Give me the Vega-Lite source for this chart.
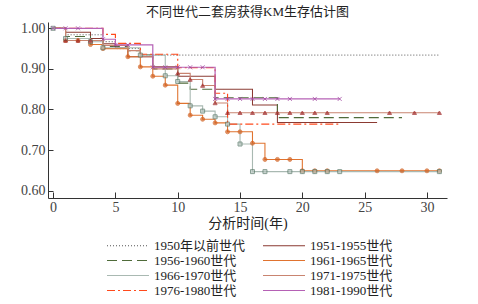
{
  "$schema": "https://vega.github.io/schema/vega-lite/v6.json",
  "autosize": "none",
  "padding": {"left": 48, "top": 22, "right": 31, "bottom": 106},
  "width": 399,
  "height": 176,
  "background": "white",
  "title": {"text": "不同世代二套房获得KM生存估计图", "fontSize": 13, "font": "Liberation Serif, Noto Sans CJK SC", "fontWeight": "normal", "color": "#222", "anchor": "middle", "offset": 2},
  "config": {
    "view": {"stroke": null},
    "axis": {"grid": false, "domainColor": "#333", "tickColor": "#333", "labelFont": "Liberation Serif", "labelColor": "#444", "labelFontSize": 14, "titleFont": "Liberation Serif, Noto Sans CJK SC", "titleFontWeight": "normal", "titleColor": "#222", "titleFontSize": 14}
  },
  "data": {"values": [
    {"g": "1950年以前世代", "t": 0, "s": 1.0, "m": 0},
    {"g": "1950年以前世代", "t": 1, "s": 0.984, "m": 0},
    {"g": "1950年以前世代", "t": 4, "s": 0.967, "m": 0},
    {"g": "1950年以前世代", "t": 5, "s": 0.95, "m": 0},
    {"g": "1950年以前世代", "t": 7, "s": 0.934, "m": 0},
    {"g": "1950年以前世代", "t": 31, "s": 0.934, "m": 0},

    {"g": "1951-1955世代", "t": 0, "s": 1.0, "m": 0},
    {"g": "1951-1955世代", "t": 1, "s": 0.99, "m": 0},
    {"g": "1951-1955世代", "t": 3, "s": 0.975, "m": 0},
    {"g": "1951-1955世代", "t": 4, "s": 0.962, "m": 0},
    {"g": "1951-1955世代", "t": 5, "s": 0.952, "m": 0},
    {"g": "1951-1955世代", "t": 6, "s": 0.93, "m": 0},
    {"g": "1951-1955世代", "t": 8, "s": 0.905, "m": 0},
    {"g": "1951-1955世代", "t": 10, "s": 0.882, "m": 0},
    {"g": "1951-1955世代", "t": 13, "s": 0.85, "m": 0},
    {"g": "1951-1955世代", "t": 16, "s": 0.811, "m": 0},
    {"g": "1951-1955世代", "t": 18, "s": 0.768, "m": 0},
    {"g": "1951-1955世代", "t": 26, "s": 0.768, "m": 0},

    {"g": "1956-1960世代", "t": 0, "s": 1.0, "m": 0},
    {"g": "1956-1960世代", "t": 1, "s": 0.98, "m": 0},
    {"g": "1956-1960世代", "t": 3, "s": 0.97, "m": 0},
    {"g": "1956-1960世代", "t": 4, "s": 0.955, "m": 0},
    {"g": "1956-1960世代", "t": 6, "s": 0.945, "m": 0},
    {"g": "1956-1960世代", "t": 7, "s": 0.935, "m": 0},
    {"g": "1956-1960世代", "t": 8, "s": 0.9, "m": 0},
    {"g": "1956-1960世代", "t": 10, "s": 0.865, "m": 0},
    {"g": "1956-1960世代", "t": 11, "s": 0.85, "m": 0},
    {"g": "1956-1960世代", "t": 13, "s": 0.829, "m": 0},
    {"g": "1956-1960世代", "t": 18, "s": 0.78, "m": 0},
    {"g": "1956-1960世代", "t": 28, "s": 0.78, "m": 0},

    {"g": "1961-1965世代", "t": 0, "s": 1.0, "m": 0},
    {"g": "1961-1965世代", "t": 1, "s": 0.97, "m": 1},
    {"g": "1961-1965世代", "t": 2, "s": 0.97, "m": 1},
    {"g": "1961-1965世代", "t": 3, "s": 0.96, "m": 1},
    {"g": "1961-1965世代", "t": 4, "s": 0.95, "m": 1},
    {"g": "1961-1965世代", "t": 6, "s": 0.93, "m": 1},
    {"g": "1961-1965世代", "t": 7, "s": 0.905, "m": 1},
    {"g": "1961-1965世代", "t": 8, "s": 0.882, "m": 1},
    {"g": "1961-1965世代", "t": 9, "s": 0.86, "m": 1},
    {"g": "1961-1965世代", "t": 10, "s": 0.815, "m": 1},
    {"g": "1961-1965世代", "t": 11, "s": 0.786, "m": 1},
    {"g": "1961-1965世代", "t": 12, "s": 0.776, "m": 1},
    {"g": "1961-1965世代", "t": 13, "s": 0.767, "m": 1},
    {"g": "1961-1965世代", "t": 14, "s": 0.745, "m": 1},
    {"g": "1961-1965世代", "t": 15, "s": 0.745, "m": 1},
    {"g": "1961-1965世代", "t": 16, "s": 0.717, "m": 1},
    {"g": "1961-1965世代", "t": 17, "s": 0.677, "m": 1},
    {"g": "1961-1965世代", "t": 18, "s": 0.677, "m": 1},
    {"g": "1961-1965世代", "t": 19, "s": 0.677, "m": 1},
    {"g": "1961-1965世代", "t": 20, "s": 0.649, "m": 1},
    {"g": "1961-1965世代", "t": 21, "s": 0.649, "m": 1},
    {"g": "1961-1965世代", "t": 22, "s": 0.649, "m": 1},
    {"g": "1961-1965世代", "t": 26, "s": 0.649, "m": 1},
    {"g": "1961-1965世代", "t": 28, "s": 0.649, "m": 1},
    {"g": "1961-1965世代", "t": 30, "s": 0.649, "m": 1},
    {"g": "1961-1965世代", "t": 31, "s": 0.649, "m": 1},

    {"g": "1966-1970世代", "t": 0, "s": 1.0, "m": 1},
    {"g": "1966-1970世代", "t": 1, "s": 0.975, "m": 1},
    {"g": "1966-1970世代", "t": 3, "s": 0.967, "m": 1},
    {"g": "1966-1970世代", "t": 4, "s": 0.952, "m": 1},
    {"g": "1966-1970世代", "t": 7, "s": 0.934, "m": 1},
    {"g": "1966-1970世代", "t": 9, "s": 0.883, "m": 1},
    {"g": "1966-1970世代", "t": 10, "s": 0.869, "m": 1},
    {"g": "1966-1970世代", "t": 11, "s": 0.809, "m": 1},
    {"g": "1966-1970世代", "t": 12, "s": 0.796, "m": 1},
    {"g": "1966-1970世代", "t": 13, "s": 0.782, "m": 1},
    {"g": "1966-1970世代", "t": 14, "s": 0.764, "m": 1},
    {"g": "1966-1970世代", "t": 15, "s": 0.715, "m": 1},
    {"g": "1966-1970世代", "t": 16, "s": 0.647, "m": 1},
    {"g": "1966-1970世代", "t": 17, "s": 0.647, "m": 1},
    {"g": "1966-1970世代", "t": 19, "s": 0.647, "m": 1},
    {"g": "1966-1970世代", "t": 20, "s": 0.647, "m": 1},
    {"g": "1966-1970世代", "t": 21, "s": 0.647, "m": 1},
    {"g": "1966-1970世代", "t": 22, "s": 0.647, "m": 1},
    {"g": "1966-1970世代", "t": 23, "s": 0.647, "m": 1},
    {"g": "1966-1970世代", "t": 31, "s": 0.647, "m": 1},

    {"g": "1971-1975世代", "t": 0, "s": 1.0, "m": 0},
    {"g": "1971-1975世代", "t": 1, "s": 0.97, "m": 1},
    {"g": "1971-1975世代", "t": 2, "s": 0.97, "m": 1},
    {"g": "1971-1975世代", "t": 3, "s": 0.97, "m": 1},
    {"g": "1971-1975世代", "t": 4, "s": 0.958, "m": 0},
    {"g": "1971-1975世代", "t": 6, "s": 0.945, "m": 0},
    {"g": "1971-1975世代", "t": 7, "s": 0.93, "m": 0},
    {"g": "1971-1975世代", "t": 8, "s": 0.9, "m": 0},
    {"g": "1971-1975世代", "t": 10, "s": 0.889, "m": 1},
    {"g": "1971-1975世代", "t": 11, "s": 0.874, "m": 1},
    {"g": "1971-1975世代", "t": 12, "s": 0.859, "m": 1},
    {"g": "1971-1975世代", "t": 13, "s": 0.816, "m": 1},
    {"g": "1971-1975世代", "t": 14, "s": 0.792, "m": 1},
    {"g": "1971-1975世代", "t": 15, "s": 0.792, "m": 1},
    {"g": "1971-1975世代", "t": 16, "s": 0.792, "m": 1},
    {"g": "1971-1975世代", "t": 17, "s": 0.792, "m": 1},
    {"g": "1971-1975世代", "t": 18, "s": 0.792, "m": 1},
    {"g": "1971-1975世代", "t": 19, "s": 0.792, "m": 1},
    {"g": "1971-1975世代", "t": 20, "s": 0.792, "m": 1},
    {"g": "1971-1975世代", "t": 21, "s": 0.792, "m": 1},
    {"g": "1971-1975世代", "t": 22, "s": 0.792, "m": 1},
    {"g": "1971-1975世代", "t": 27, "s": 0.792, "m": 1},
    {"g": "1971-1975世代", "t": 29, "s": 0.792, "m": 1},
    {"g": "1971-1975世代", "t": 31, "s": 0.792, "m": 1},

    {"g": "1976-1980世代", "t": 0, "s": 1.0, "m": 0},
    {"g": "1976-1980世代", "t": 4, "s": 0.985, "m": 0},
    {"g": "1976-1980世代", "t": 5, "s": 0.963, "m": 0},
    {"g": "1976-1980世代", "t": 7, "s": 0.936, "m": 0},
    {"g": "1976-1980世代", "t": 10, "s": 0.903, "m": 0},
    {"g": "1976-1980世代", "t": 13, "s": 0.84, "m": 0},
    {"g": "1976-1980世代", "t": 14, "s": 0.764, "m": 0},
    {"g": "1976-1980世代", "t": 23, "s": 0.764, "m": 0},

    {"g": "1981-1990世代", "t": 0, "s": 1.0, "m": 1},
    {"g": "1981-1990世代", "t": 1, "s": 1.0, "m": 1},
    {"g": "1981-1990世代", "t": 2, "s": 1.0, "m": 1},
    {"g": "1981-1990世代", "t": 4, "s": 0.973, "m": 1},
    {"g": "1981-1990世代", "t": 5, "s": 0.959, "m": 1},
    {"g": "1981-1990世代", "t": 6, "s": 0.959, "m": 1},
    {"g": "1981-1990世代", "t": 8, "s": 0.904, "m": 1},
    {"g": "1981-1990世代", "t": 9, "s": 0.904, "m": 1},
    {"g": "1981-1990世代", "t": 10, "s": 0.904, "m": 1},
    {"g": "1981-1990世代", "t": 11, "s": 0.904, "m": 1},
    {"g": "1981-1990世代", "t": 12, "s": 0.904, "m": 1},
    {"g": "1981-1990世代", "t": 13, "s": 0.826, "m": 1},
    {"g": "1981-1990世代", "t": 14, "s": 0.826, "m": 1},
    {"g": "1981-1990世代", "t": 15, "s": 0.826, "m": 1},
    {"g": "1981-1990世代", "t": 16, "s": 0.826, "m": 1},
    {"g": "1981-1990世代", "t": 17, "s": 0.826, "m": 1},
    {"g": "1981-1990世代", "t": 18, "s": 0.826, "m": 1},
    {"g": "1981-1990世代", "t": 19, "s": 0.826, "m": 1},
    {"g": "1981-1990世代", "t": 21, "s": 0.826, "m": 1},
    {"g": "1981-1990世代", "t": 23, "s": 0.826, "m": 1}
  ]},
  "layer": [
    {
      "mark": {"type": "line", "interpolate": "step-after"},
      "encoding": {
        "x": {"field": "t", "type": "quantitative", "scale": {"domain": [-0.41, 31.61], "nice": false, "zero": false},
              "axis": {"values": [0, 5, 10, 15, 20, 25, 30], "title": "分析时间(年)", "tickSize": -6, "labelPadding": 8, "titlePadding": 2}},
        "y": {"field": "s", "type": "quantitative", "scale": {"domain": [0.582, 1.0155], "nice": false, "zero": false},
              "axis": {"values": [0.6, 0.7, 0.8, 0.9, 1.0], "format": ".2f", "title": null, "tickSize": -5, "labelPadding": 8}},
        "color": {"field": "g", "type": "nominal",
          "scale": {"domain": ["1950年以前世代", "1951-1955世代", "1956-1960世代", "1961-1965世代", "1966-1970世代", "1971-1975世代", "1976-1980世代", "1981-1990世代"],
                    "range": ["#555555", "#8b3a32", "#4f6b3a", "#e0732f", "#a9b9b2", "#c98470", "#ff4a1c", "#b561b5"]},
          "legend": {"title": null, "orient": "none", "legendX": 58, "legendY": 217, "direction": "horizontal", "columns": 2, "columnPadding": 16, "rowPadding": 1, "clipHeight": 13,
                     "symbolType": "stroke", "symbolSize": 1764, "labelFont": "Liberation Serif, Noto Sans CJK SC", "labelFontSize": 13, "labelColor": "#222", "labelOffset": 4, "padding": 0}},
        "strokeDash": {"field": "g", "type": "nominal",
          "scale": {"domain": ["1950年以前世代", "1951-1955世代", "1956-1960世代", "1961-1965世代", "1966-1970世代", "1971-1975世代", "1976-1980世代", "1981-1990世代"],
                    "range": [[1, 2], [1, 0], [10, 5], [1, 0], [1, 0], [1, 0], [8, 3, 2, 3], [1, 0]]}},
        "strokeWidth": {"field": "g", "type": "nominal",
          "scale": {"domain": ["1950年以前世代", "1951-1955世代", "1956-1960世代", "1961-1965世代", "1966-1970世代", "1971-1975世代", "1976-1980世代", "1981-1990世代"],
                    "range": [1, 1.2, 1.3, 1.5, 2.5, 2.5, 1.5, 1.5]}}
      }
    },
    {
      "transform": [{"filter": "datum.m == 1"}],
      "mark": {"type": "point", "filled": true, "size": 16, "strokeWidth": 1},
      "encoding": {
        "x": {"field": "t", "type": "quantitative"},
        "y": {"field": "s", "type": "quantitative"},
        "shape": {"field": "g", "type": "nominal", "legend": null,
          "scale": {"domain": ["1961-1965世代", "1966-1970世代", "1971-1975世代", "1981-1990世代"],
                    "range": ["circle", "square", "triangle-up", "M-1,-1L1,1M-1,1L1,-1"]}},
        "fill": {"field": "g", "type": "nominal", "legend": null,
          "scale": {"domain": ["1961-1965世代", "1966-1970世代", "1971-1975世代", "1981-1990世代"],
                    "range": ["#d2601f", "#b8c6c0", "#9e2424", "transparent"]}},
        "stroke": {"field": "g", "type": "nominal", "legend": null,
          "scale": {"domain": ["1961-1965世代", "1966-1970世代", "1971-1975世代", "1981-1990世代"],
                    "range": ["#d2601f", "#587868", "#9e2424", "#9c3c9c"]}}
      }
    }
  ]
}
